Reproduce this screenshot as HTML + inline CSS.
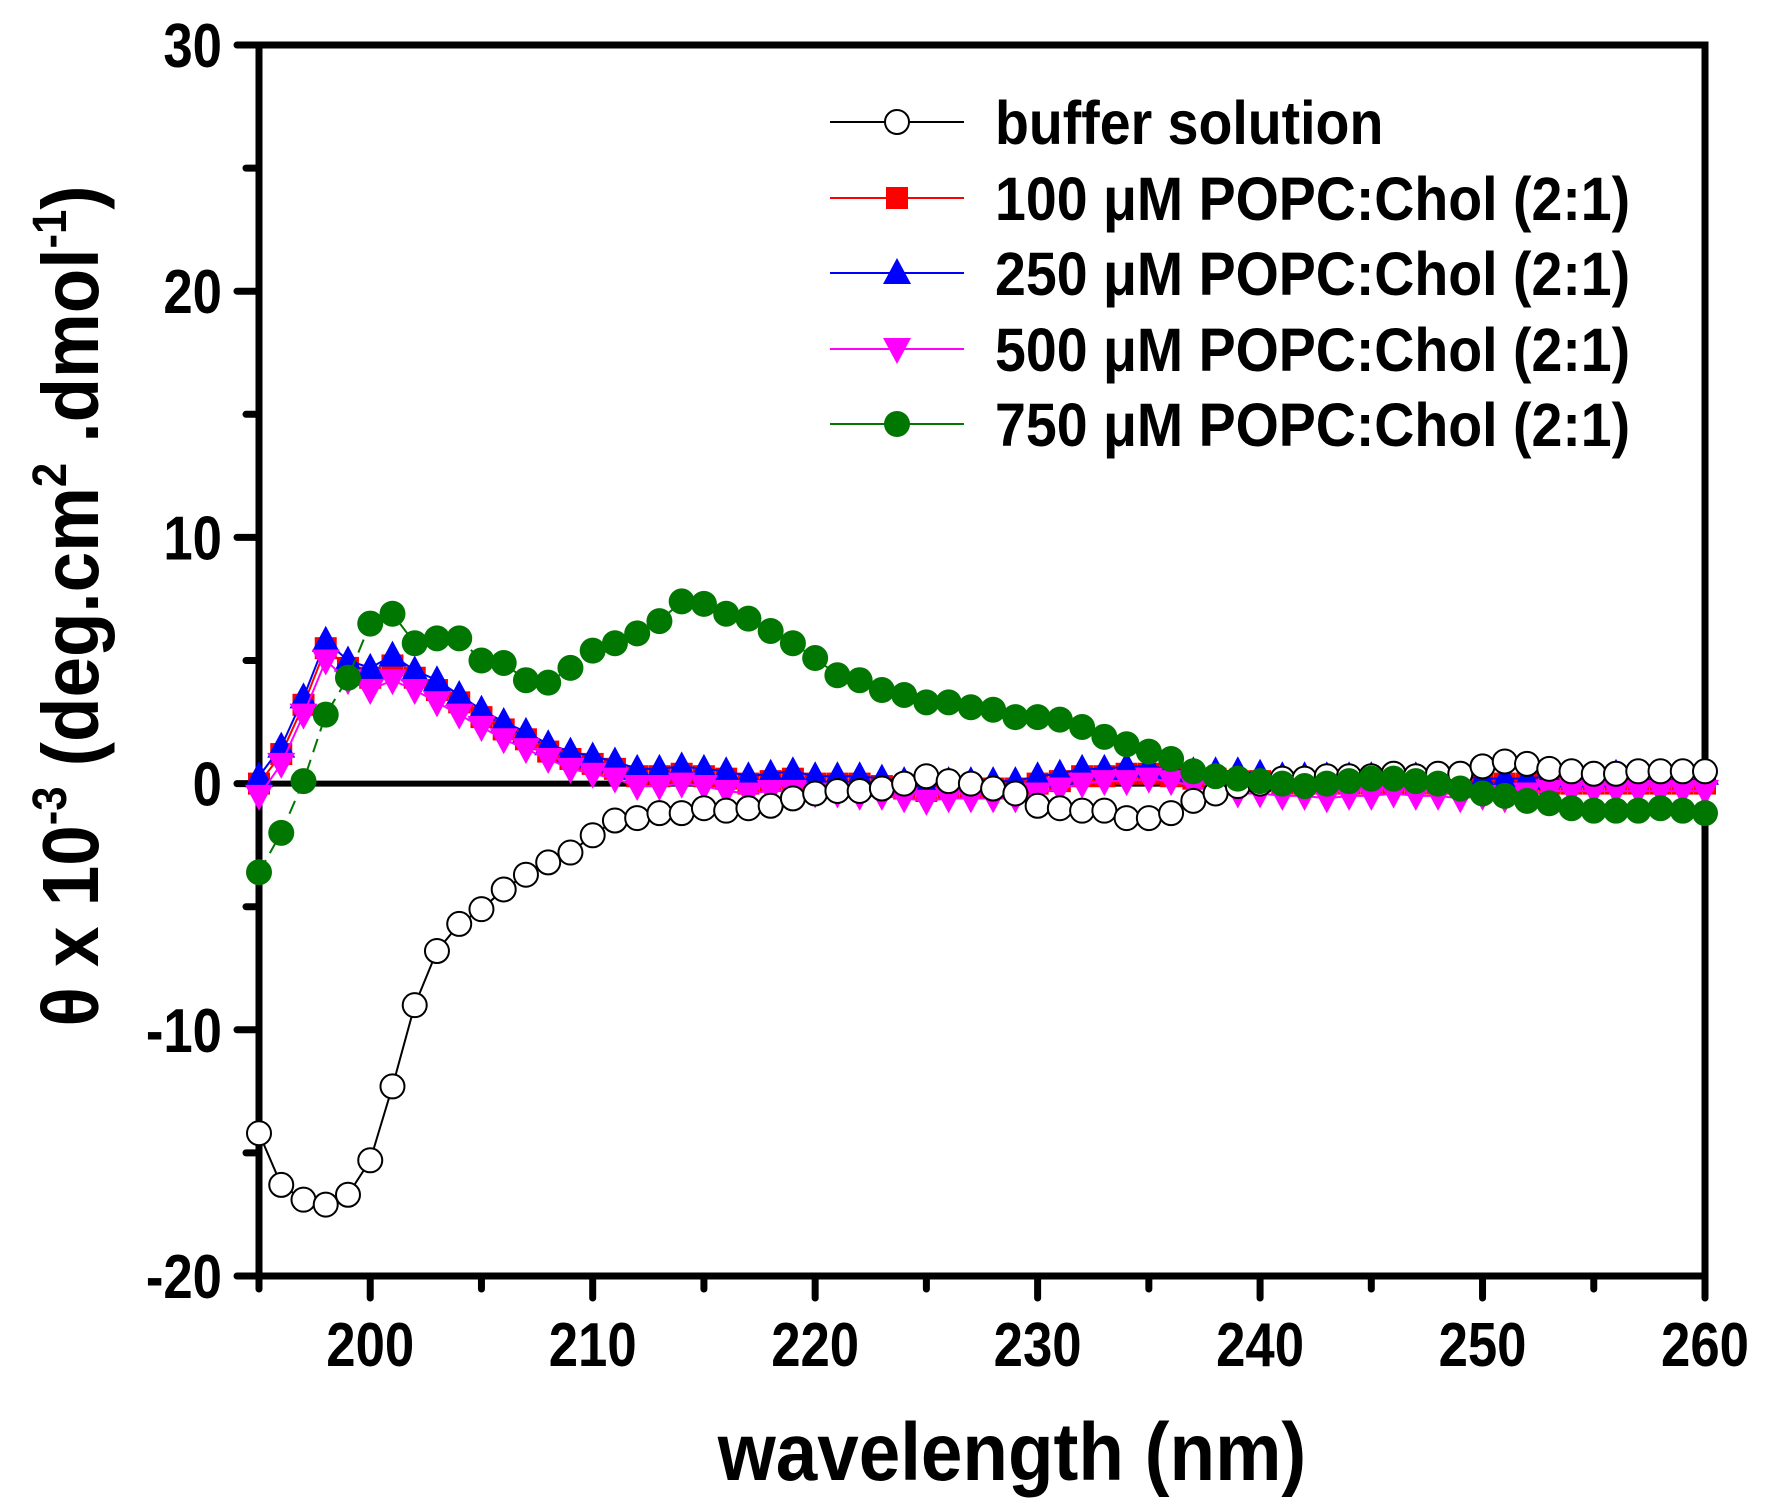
<!DOCTYPE html>
<html><head><meta charset="utf-8"><style>
html,body{margin:0;padding:0;background:#fff}
svg{display:block}
text{font-family:"Liberation Sans",Arial,sans-serif;font-weight:bold;fill:#000}
</style></head><body>
<svg id="chart" width="1772" height="1510" viewBox="0 0 1772 1510">
<g id="axes"></g>
<g id="series"></g>
<g id="legend"></g>
<text x="1012" y="1480" font-size="82" text-anchor="middle" transform="translate(1012 0) scale(0.91 1) translate(-1012 0)">wavelength (nm)</text>
<text font-size="80" text-anchor="middle" transform="translate(98 606) rotate(-90) scale(0.91 1)">θ x 10<tspan dy="-32" font-size="48">-3</tspan><tspan dy="32"> (deg.cm</tspan><tspan dy="-32" font-size="48">2</tspan><tspan dy="32"> .dmol</tspan><tspan dy="-32" font-size="48">-1</tspan><tspan dy="32">)</tspan></text>
</svg>
<script>
const wavelengths = [];
for (let w = 195; w <= 260; w++) wavelengths.push(w);
const buffer = [-14.2,-16.3,-16.9,-17.1,-16.7,-15.3,-12.3,-9.0,-6.8,-5.7,-5.1,-4.3,-3.7,-3.2,-2.8,-2.1,-1.5,-1.4,-1.2,-1.2,-1.0,-1.1,-1.0,-0.9,-0.6,-0.4,-0.3,-0.3,-0.2,0.0,0.3,0.1,0.0,-0.2,-0.4,-0.9,-1.0,-1.1,-1.1,-1.4,-1.4,-1.2,-0.7,-0.4,-0.1,0.0,0.2,0.2,0.3,0.3,0.3,0.4,0.3,0.4,0.4,0.7,0.9,0.8,0.6,0.5,0.4,0.4,0.5,0.5,0.5,0.5];
const c100 = [0.0,1.2,3.2,5.5,4.7,4.3,4.8,4.3,3.8,3.3,2.7,2.2,1.8,1.3,1.0,0.8,0.6,0.3,0.3,0.4,0.3,0.2,0.0,0.1,0.2,0.0,0.0,0.0,-0.1,-0.2,-0.3,-0.2,-0.2,-0.2,-0.2,0.0,0.1,0.3,0.3,0.4,0.4,0.3,0.2,0.2,0.1,0.1,0.0,0.0,0.0,0.0,0.0,0.0,0.0,0.0,0.0,0.0,0.0,0.0,0.0,0.0,0.0,0.0,0.0,0.0,0.0,0.0];
const c250 = [0.3,1.5,3.5,5.8,5.0,4.7,5.2,4.6,4.2,3.6,3.0,2.5,2.1,1.6,1.3,1.1,0.9,0.6,0.6,0.7,0.6,0.5,0.3,0.4,0.5,0.3,0.3,0.3,0.2,0.1,0.0,0.1,0.1,0.1,0.1,0.3,0.4,0.6,0.6,0.7,0.7,0.6,0.5,0.5,0.5,0.4,0.3,0.3,0.3,0.3,0.3,0.3,0.3,0.3,0.3,0.2,0.2,0.2,0.3,0.3,0.3,0.4,0.4,0.4,0.4,0.4];
const c500 = [-0.5,0.8,2.8,5.0,4.2,3.8,4.2,3.8,3.3,2.8,2.3,1.8,1.4,1.0,0.6,0.4,0.2,-0.1,-0.1,0.0,-0.1,-0.3,-0.4,-0.3,-0.3,-0.4,-0.4,-0.5,-0.5,-0.6,-0.7,-0.6,-0.6,-0.6,-0.6,-0.4,-0.2,0.0,0.1,0.1,0.2,0.1,-0.1,-0.3,-0.4,-0.4,-0.5,-0.5,-0.6,-0.5,-0.5,-0.4,-0.5,-0.5,-0.6,-0.5,-0.6,-0.4,-0.3,-0.3,-0.3,-0.3,-0.3,-0.3,-0.3,-0.3];
const c750 = [-3.6,-2.0,0.1,2.8,4.3,6.5,6.9,5.7,5.9,5.9,5.0,4.9,4.2,4.1,4.7,5.4,5.7,6.1,6.6,7.4,7.3,6.9,6.7,6.2,5.7,5.1,4.4,4.2,3.8,3.6,3.3,3.3,3.1,3.0,2.7,2.7,2.6,2.3,1.9,1.6,1.3,1.0,0.5,0.3,0.2,0.1,0.0,-0.1,0.0,0.1,0.2,0.2,0.1,0.0,-0.2,-0.4,-0.5,-0.7,-0.8,-1.0,-1.1,-1.1,-1.1,-1.0,-1.1,-1.2];
const xTicks = [200,210,220,230,240,250,260];
const yTicks = [-20,-10,0,10,20,30];
const seriesNames = ["buffer solution","100 μM POPC:Chol (2:1)","250 μM POPC:Chol (2:1)","500 μM POPC:Chol (2:1)","750 μM POPC:Chol (2:1)"];

const L=259,R=1705,T=45,B=1276,X0=195,X1=260,Y0=-20,Y1=30;
const xs=v=>L+(v-X0)/(X1-X0)*(R-L);
const ys=v=>B-(v-Y0)/(Y1-Y0)*(B-T);
const NS="http://www.w3.org/2000/svg";
function mk(tag,parent,attrs){const e=document.createElementNS(NS,tag);for(const k in attrs)e.setAttribute(k,attrs[k]);parent.appendChild(e);return e;}
const axes=document.getElementById('axes'),ser=document.getElementById('series'),leg=document.getElementById('legend');

let e=mk('line',axes,{x1:L,x2:R,y1:ys(0),y2:ys(0),stroke:'#000','stroke-width':6});



function marker(g,type,cx,cy,color){
  let m;
  if(type==='circle-open') m=mk('circle',g,{cx:cx,cy:cy,r:12,fill:'#fff',stroke:'#000','stroke-width':2});
  else if(type==='circle') m=mk('circle',g,{cx:cx,cy:cy,r:13,fill:color});
  else if(type==='square') m=mk('rect',g,{x:cx-11,y:cy-11,width:22,height:22,fill:color});
  else if(type==='up') m=mk('polygon',g,{points:`${cx},${cy-15} ${cx-14},${cy+11} ${cx+14},${cy+11}`,fill:color});
  else m=mk('polygon',g,{points:`${cx},${cy+15} ${cx-14},${cy-11} ${cx+14},${cy-11}`,fill:color});
  return m;
}
const defs=[
 {data:buffer,color:'#000',type:'circle-open',name:'series-buffer',dash:''},
 {data:c100,color:'#ff0000',type:'square',name:'series-100uM',dash:''},
 {data:c250,color:'#0000ff',type:'up',name:'series-250uM',dash:''},
 {data:c500,color:'#ff00ff',type:'down',name:'series-500uM',dash:''},
 {data:c750,color:'#007700',type:'circle',name:'series-750uM',dash:'14 8'}
];
const order=[1,2,3,0,4];
order.forEach(i=>{
  const d=defs[i];
  const g=mk('g',ser,{});
  
  
  const pts=d.data.map((v,k)=>xs(wavelengths[k])+','+ys(v)).join(' ');
  const pl=mk('polyline',g,{points:pts,fill:'none',stroke:d.color,'stroke-width':2,'stroke-dasharray':d.dash});
  
  
  d.data.forEach((v,k)=>{
    const m=marker(g,d.type,xs(wavelengths[k]),ys(v),d.color);
    
    
  });
});

e=mk('rect',axes,{x:L,y:T,width:R-L,height:B-T,fill:'none',stroke:'#000','stroke-width':7});


for(let w=195;w<=260;w+=5){
  const major=(w%10===0);
  e=mk('line',axes,{x1:xs(w),x2:xs(w),y1:B,y2:B+(major?22:13),stroke:'#000','stroke-width':7,'stroke-linecap':'round'});
  
  
}
xTicks.forEach(t=>{
  const tx=mk('text',axes,{x:xs(t),y:1366,'font-size':62,'text-anchor':'middle',transform:`translate(${xs(t)} 0) scale(0.85 1) translate(${-xs(t)} 0)`});
  tx.textContent=t;
  
  
});
for(let v=-20;v<=30;v+=5){
  const major=(v%10===0);
  e=mk('line',axes,{x1:L,x2:L-(major?22:13),y1:ys(v),y2:ys(v),stroke:'#000','stroke-width':7,'stroke-linecap':'round'});
  
  
}
yTicks.forEach(t=>{
  const tx=mk('text',axes,{x:222,y:ys(t)+22,'font-size':62,'text-anchor':'end',transform:`translate(222 0) scale(0.85 1) translate(-222 0)`});
  tx.textContent=t;
  
  
});
const ly=[122,198,273,349,424];
seriesNames.forEach((n,i)=>{
  const d=defs[i];
  const g=mk('g',leg,{});
  
  
  mk('line',g,{x1:830,x2:964,y1:ly[i],y2:ly[i],stroke:d.color,'stroke-width':2});
  marker(g,d.type,897,ly[i],d.color);
  const tx=mk('text',g,{x:995,y:ly[i]+22,'font-size':61,transform:'translate(995 0) scale(0.91 1) translate(-995 0)'});
  tx.textContent=n;
});
</script>
</body></html>
